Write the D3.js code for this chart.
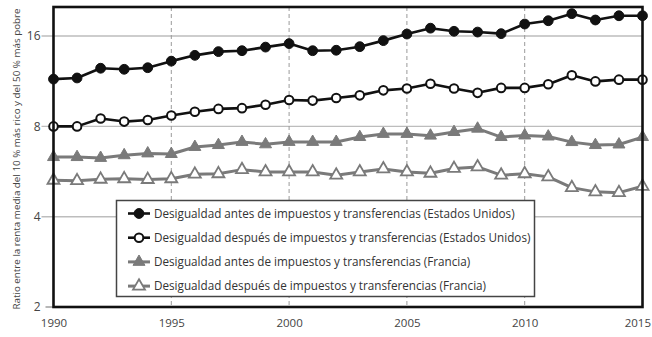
<!DOCTYPE html>
<html>
<head>
<meta charset="utf-8">
<script src="https://cdn.jsdelivr.net/npm/d3@7"></script>
<style>
  html, body { margin: 0; padding: 0; background: #fff; }
  svg { display: block; font-family: "Open Sans", "Noto Sans", sans-serif; }
</style>
</head>
<body>
<svg id="chart" width="652" height="337"></svg>
<script>
// Years on the x axis
const years = d3.range(1990, 2016);

// Ratio of mean income of the top 10 % to the bottom 50 %
const usBefore = [11.5, 11.6, 12.5, 12.4, 12.55, 13.2, 13.8, 14.2, 14.3, 14.7, 15.1, 14.3, 14.35, 14.75, 15.45, 16.25, 17.0, 16.6, 16.5, 16.3, 17.55, 18.0, 19.0, 18.1, 18.7, 18.7];
const usAfter  = [8.0, 8.0, 8.5, 8.3, 8.4, 8.7, 8.95, 9.15, 9.2, 9.45, 9.8, 9.75, 9.95, 10.15, 10.55, 10.7, 11.1, 10.7, 10.35, 10.75, 10.75, 11.05, 11.85, 11.3, 11.45, 11.45];
const frBefore = [6.32, 6.32, 6.28, 6.41, 6.5, 6.47, 6.83, 6.93, 7.1, 6.97, 7.1, 7.1, 7.1, 7.37, 7.55, 7.55, 7.45, 7.66, 7.86, 7.37, 7.46, 7.4, 7.09, 6.93, 6.96, 7.37];
const frAfter  = [5.29, 5.27, 5.33, 5.35, 5.32, 5.35, 5.54, 5.56, 5.74, 5.64, 5.64, 5.64, 5.5, 5.64, 5.77, 5.64, 5.58, 5.79, 5.86, 5.5, 5.56, 5.43, 5.0, 4.84, 4.81, 5.05];

const seriesNames = [
  "Desigualdad antes de impuestos y transferencias (Estados Unidos)",
  "Desigualdad después de impuestos y transferencias (Estados Unidos)",
  "Desigualdad antes de impuestos y transferencias (Francia)",
  "Desigualdad después de impuestos y transferencias (Francia)"
];

const yTicks = [2, 4, 8, 16];
const xTicks = [1990, 1995, 2000, 2005, 2010, 2015];
const yTitle = "Ratio entre la renta media del 10 % más rico y del 50 % más pobre";

const svg = d3.select("#chart");
const m = { left: 53.5, right: 642.5, top: 7, bottom: 307 };

const x = d3.scaleLinear().domain([1990, 2015]).range([m.left, m.right]);
const y = d3.scaleLog().base(2).domain([2, 20]).range([m.bottom, m.top]);

// Horizontal gridlines (extend a little left of the frame as tick marks)
svg.append("g")
  .selectAll("line")
  .data(yTicks.slice(1))
  .join("line")
  .attr("x1", m.left - 12).attr("x2", m.right)
  .attr("y1", d => y(d)).attr("y2", d => y(d))
  .attr("stroke", "#bdbdbd").attr("stroke-width", 1.4);

// Vertical dashed gridlines
svg.append("g")
  .selectAll("line")
  .data(xTicks.slice(1, -1))
  .join("line")
  .attr("x1", d => x(d)).attr("x2", d => x(d))
  .attr("y1", m.top).attr("y2", m.bottom)
  .attr("stroke", "#9a9a9a").attr("stroke-width", 1)
  .attr("stroke-dasharray", "4,3");

// Y axis labels and ticks
const yAxis = d3.axisLeft(y).tickValues(yTicks).tickFormat(d3.format("d")).tickSize(0).tickPadding(13);
const gy = svg.append("g").attr("transform", `translate(${m.left},0)`).call(yAxis);
gy.select(".domain").remove();
gy.selectAll("text").attr("fill", "#444").attr("font-size", 12)
  .attr("font-family", "'Open Sans', sans-serif");
svg.append("line")
  .attr("x1", m.left - 8).attr("x2", m.left)
  .attr("y1", y(2)).attr("y2", y(2))
  .attr("stroke", "#888").attr("stroke-width", 1.2);

// X axis labels
const xAxis = d3.axisBottom(x).tickValues(xTicks).tickFormat(d3.format("d")).tickSize(0).tickPadding(12);
const gx = svg.append("g").attr("transform", `translate(0,${m.bottom})`).call(xAxis);
gx.select(".domain").remove();
gx.selectAll("text").attr("fill", "#444").attr("font-size", 11.5)
  .attr("font-family", "'Open Sans', sans-serif");
// keep the last year label inside the page
gx.selectAll(".tick").filter(d => d === 2015).select("text")
  .attr("text-anchor", "end").attr("dx", 8);

// Y axis title
svg.append("text")
  .attr("transform", `translate(20,${(m.top + m.bottom) / 2 + 2}) rotate(-90)`)
  .attr("text-anchor", "middle")
  .attr("font-size", 9.8)
  .attr("fill", "#444")
  .text(yTitle);

// Series definitions
const series = [
  { values: usBefore, color: "#111", width: 2.6, marker: "circle", fill: "#111" },
  { values: usAfter,  color: "#111", width: 2.6, marker: "circle", fill: "#fff" },
  { values: frBefore, color: "#7a7a7a", width: 3, marker: "triangle", fill: "#7a7a7a" },
  { values: frAfter,  color: "#7a7a7a", width: 3, marker: "triangle", fill: "#fff" }
];

const line = d3.line().x(d => x(d[0])).y(d => y(d[1]));
const triSym = d3.symbol().type(d3.symbolTriangle).size(62);

function drawMarker(g, s, cx, cy) {
  if (s.marker === "circle") {
    g.append("circle")
      .attr("cx", cx).attr("cy", cy)
      .attr("r", s.fill === "#fff" ? 4.3 : 4.9)
      .attr("fill", s.fill)
      .attr("stroke", s.color).attr("stroke-width", s.fill === "#fff" ? 2 : 1);
  } else {
    g.append("path")
      .attr("d", triSym())
      .attr("transform", `translate(${cx},${cy})`)
      .attr("fill", s.fill)
      .attr("stroke", s.color).attr("stroke-width", s.fill === "#fff" ? 1.8 : 1);
  }
}

// Draw France first, then US on top
[2, 3, 0, 1].forEach(i => {
  const s = series[i];
  const pts = years.map((yr, k) => [yr, s.values[k]]);
  const g = svg.append("g");
  g.append("path")
    .attr("d", line(pts))
    .attr("fill", "none")
    .attr("stroke", s.color)
    .attr("stroke-width", s.width)
    .attr("stroke-linejoin", "round");
  pts.forEach(p => drawMarker(g, s, x(p[0]), y(p[1])));
});

// Legend
const legend = svg.append("g");
legend.append("rect")
  .attr("x", 116.5).attr("y", 200.5)
  .attr("width", 418).attr("height", 96)
  .attr("fill", "#fff")
  .attr("stroke", "#444").attr("stroke-width", 1.5);
series.forEach((s, i) => {
  const ly = 213.5 + i * 24.2;
  const g = legend.append("g");
  g.append("line")
    .attr("x1", 128).attr("x2", 150)
    .attr("y1", ly).attr("y2", ly)
    .attr("stroke", s.color).attr("stroke-width", s.width);
  drawMarker(g, s, 139, ly);
  g.append("text")
    .attr("x", 154).attr("y", ly + 4)
    .attr("font-size", 11.7)
    .attr("fill", "#333")
    .text(seriesNames[i]);
});

// Plot frame
svg.append("rect")
  .attr("x", m.left).attr("y", m.top)
  .attr("width", m.right - m.left).attr("height", m.bottom - m.top)
  .attr("fill", "none")
  .attr("stroke", "#111").attr("stroke-width", 2.6);
</script>
</body>
</html>
